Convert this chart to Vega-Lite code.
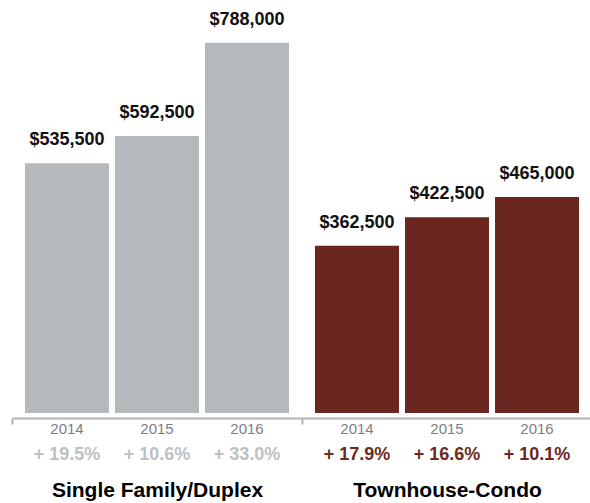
{
  "$schema": "https://vega.github.io/schema/vega-lite/v6.json",
  "width": 580,
  "height": 376,
  "autosize": {"type": "none"},
  "padding": {"left": 12, "top": 37, "right": 0, "bottom": 90},
  "background": "white",
  "config": {"view": {"stroke": null}, "font": "Liberation Sans"},
  "data": {
    "values": [
      {"group": "Single Family/Duplex", "year": "2014", "value": 535500, "pct": "+ 19.5%"},
      {"group": "Single Family/Duplex", "year": "2015", "value": 592500, "pct": "+ 10.6%"},
      {"group": "Single Family/Duplex", "year": "2016", "value": 788000, "pct": "+ 33.0%"},
      {"group": "Townhouse-Condo", "year": "2014", "value": 362500, "pct": "+ 17.9%"},
      {"group": "Townhouse-Condo", "year": "2015", "value": 422500, "pct": "+ 16.6%"},
      {"group": "Townhouse-Condo", "year": "2016", "value": 465000, "pct": "+ 10.1%"}
    ]
  },
  "encoding": {
    "x": {
      "field": "group",
      "type": "nominal",
      "sort": ["Single Family/Duplex", "Townhouse-Condo"],
      "scale": {"paddingInner": 0, "paddingOuter": 0},
      "axis": {
        "title": null,
        "labelAngle": 0,
        "labelLimit": 400,
        "domainColor": "#b3b3b3",
        "domainWidth": 2,
        "tickColor": "#b3b3b3",
        "tickWidth": 2,
        "tickSize": 6,
        "tickBand": "extent",
        "offset": 5,
        "labelFont": "Liberation Sans",
        "labelFontSize": 21,
        "labelFontWeight": "bold",
        "labelColor": "#000000",
        "labelBaseline": "alphabetic",
        "labelPadding": 72
      }
    },
    "xOffset": {
      "field": "year",
      "type": "nominal",
      "scale": {"paddingInner": 0.0667, "paddingOuter": 0.144}
    }
  },
  "layer": [
    {
      "mark": {"type": "bar", "clip": true},
      "encoding": {
        "y": {
          "field": "value",
          "type": "quantitative",
          "scale": {"domain": [12400, 800000], "nice": false},
          "axis": null
        },
        "color": {
          "field": "group",
          "type": "nominal",
          "scale": {"range": ["#b4babb", "#6a2720"]},
          "legend": null
        }
      }
    },
    {
      "mark": {"type": "text", "baseline": "alphabetic", "dy": -18, "fontSize": 18, "fontWeight": "bold", "color": "#111111"},
      "encoding": {
        "y": {"field": "value", "type": "quantitative"},
        "text": {"field": "value", "type": "quantitative", "format": "$,.0f"}
      }
    },
    {
      "mark": {"type": "text", "baseline": "alphabetic", "dy": 21, "fontSize": 15, "color": "#808080"},
      "encoding": {
        "y": {"datum": 12400, "type": "quantitative"},
        "text": {"field": "year"}
      }
    },
    {
      "mark": {"type": "text", "baseline": "alphabetic", "dy": 47, "fontSize": 18, "fontWeight": "bold"},
      "encoding": {
        "y": {"datum": 12400, "type": "quantitative"},
        "text": {"field": "pct"},
        "color": {
          "field": "group",
          "type": "nominal",
          "scale": {"range": ["#bcc1c3", "#6b2a22"]},
          "legend": null
        }
      }
    }
  ],
  "resolve": {"scale": {"color": "independent"}}
}
